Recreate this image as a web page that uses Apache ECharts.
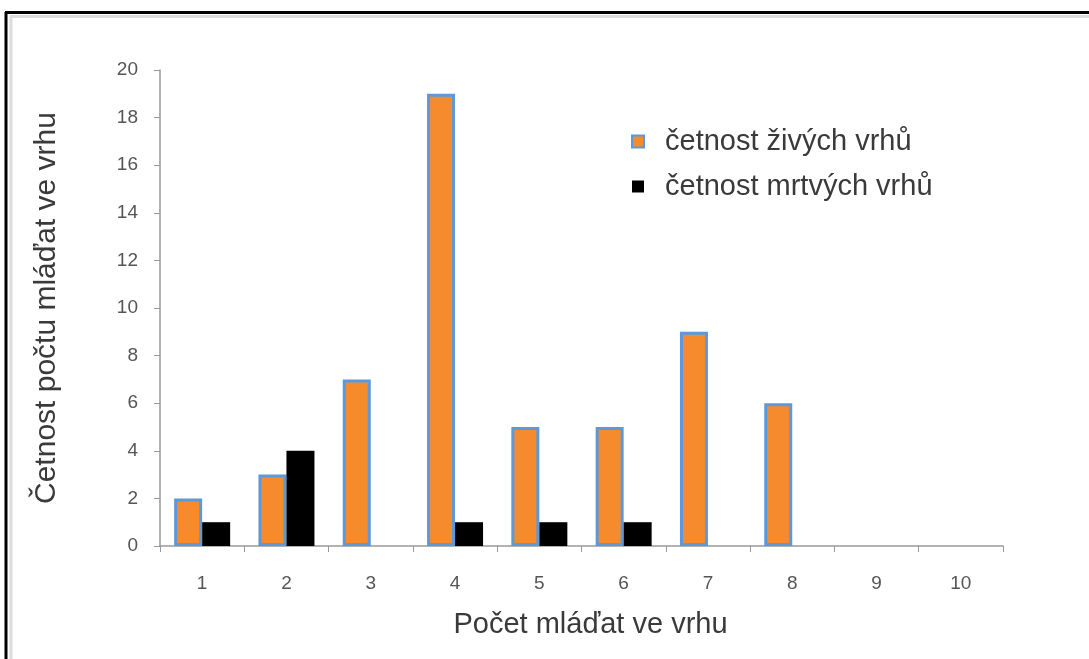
<!DOCTYPE html>
<html><head><meta charset="utf-8">
<script src="https://cdn.jsdelivr.net/npm/echarts@6/dist/echarts.min.js"></script>
<style>html,body{margin:0;padding:0;background:#fff}#c{width:1089px;height:659px}</style>
</head><body><div id="c"></div>
<script>
const categories = ['1','2','3','4','5','6','7','8','9','10'];
const liveLitters = [2,3,7,19,5,5,9,6,0,0];
const deadLitters = [1,4,0,1,1,1,0,0,0,0];
const seriesNames = ['četnost živých vrhů','četnost mrtvých vrhů'];
const xTitle = 'Počet mláďat ve vrhu';
const yTitle = 'Četnost počtu mláďat ve vrhu';

const font = 'Liberation Sans';
const chart = echarts.init(document.getElementById('c'));
chart.setOption({
  animation:false,
  backgroundColor:'#fff',
  graphic:[
    {type:'line',shape:{x1:11,y1:16,x2:11,y2:659},style:{stroke:'#dcdcdc',lineWidth:3}},
    {type:'line',shape:{x1:10,y1:16.5,x2:1089,y2:16.5},style:{stroke:'#dcdcdc',lineWidth:3}},
    {type:'line',shape:{x1:6,y1:12,x2:6,y2:659},style:{stroke:'#000',lineWidth:3}},
    {type:'line',shape:{x1:5,y1:12.5,x2:1089,y2:12.5},style:{stroke:'#000',lineWidth:3}}
  ],
  grid:{left:160,right:86,top:70,bottom:113,containLabel:false},
  legend:{
    orient:'vertical',left:626,top:122,itemGap:16,itemWidth:12,itemHeight:12,
    icon:'rect',
    textStyle:{fontFamily:font,fontSize:29,color:'#3a3a3a',padding:[0,0,0,16]},
    data:seriesNames
  },
  xAxis:{
    type:'category',data:categories,
    name:xTitle,nameLocation:'middle',nameGap:64,
    nameTextStyle:{fontFamily:font,fontSize:29,color:'#3a3a3a',padding:[0,0,0,18]},
    axisLine:{lineStyle:{color:'#999',width:1.5}},
    axisTick:{show:true,alignWithLabel:false,length:6,lineStyle:{color:'#999'}},
    axisLabel:{fontFamily:font,fontSize:19,color:'#555',margin:28}
  },
  yAxis:{
    type:'value',min:0,max:20,interval:2,
    name:yTitle,nameLocation:'middle',nameGap:98,
    nameTextStyle:{fontFamily:font,fontSize:30,color:'#3a3a3a'},
    axisLine:{show:true,lineStyle:{color:'#999',width:1.5}},
    axisTick:{show:true,length:6,lineStyle:{color:'#999'}},
    splitLine:{show:false},
    axisLabel:{fontFamily:font,fontSize:19,color:'#555',margin:22}
  },
  series:[
    {name:seriesNames[0],type:'bar',barWidth:28,barGap:'0%',
     data:liveLitters.map(v=>v===0?null:v),
     itemStyle:{color:'#F68B2E',borderColor:'#5B98DC',borderWidth:3}},
    {name:seriesNames[1],type:'bar',barWidth:28,barGap:'0%',
     data:deadLitters.map(v=>v===0?null:v),
     itemStyle:{color:'#000'}}
  ]
});
</script></body></html>
